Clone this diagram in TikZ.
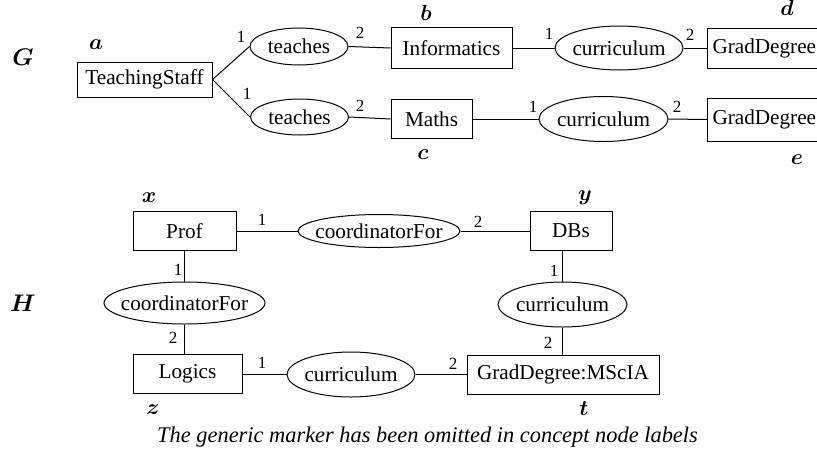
\documentclass[tikz,border=0pt]{standalone}
\usepackage{fontspec}
\setmainfont{Liberation Serif}
\usetikzlibrary{shapes.geometric}
\newcommand\nfont{\fontsize{10.6}{12}\selectfont}
\newcommand\lfont{\fontsize{8.5}{10}\selectfont}
\newcommand\vfont{\fontsize{10.5}{12}\selectfont\boldmath}
\newcommand\gfont{\fontsize{12}{14}\selectfont\boldmath}
\newcommand\capfont{\fontsize{11.2}{13}\selectfont\itshape}
\begin{document}
\begin{tikzpicture}[x=0.5pt,y=-0.5pt,
  cbox/.style={draw, rectangle, inner sep=0pt, font=\nfont, line width=0.5pt},
  gbox/.style={draw, rectangle, inner ysep=0pt, inner xsep=2.5pt, font=\nfont, line width=0.5pt, anchor=west, text width=70pt, align=left},
  rel/.style={draw, ellipse, inner sep=0pt, font=\nfont, line width=0.5pt},
  lab/.style={inner sep=0pt, font=\lfont},
  var/.style={inner sep=0pt, font=\vfont},
  gvar/.style={inner sep=0pt, font=\gfont},
  conn/.style={line width=0.5pt}]
\useasboundingbox (0,0) rectangle (817,455);
\clip (0,0) rectangle (817,455);

% graph G
\node[gvar] (G) at (23,57) {$G$};
\node[cbox, minimum width=67.5pt, minimum height=17.5pt] (ts) at (144.5,79.5) {TeachingStaff};
\node[rel, minimum width=49pt, minimum height=18.5pt] (t1) at (299,46.5) {\makebox[0pt]{teaches}};
\node[rel, minimum width=49pt, minimum height=18pt] (t2) at (299.5,117) {\makebox[0pt]{teaches}};
\node[cbox, minimum width=60.5pt, minimum height=20.5pt] (inf) at (451.5,48) {Informatics};
\node[cbox, minimum width=40.5pt, minimum height=19.5pt] (mat) at (431.5,119) {Maths};
\node[rel, minimum width=64pt, minimum height=22pt] (cu1) at (619,48) {\makebox[0pt]{curriculum}};
\node[rel, minimum width=64.5pt, minimum height=22.5pt] (cu2) at (603.5,119) {\makebox[0pt]{curriculum}};
\node[gbox, minimum height=20pt] (gd1) at (707,48) {GradDegree};
\node[gbox, minimum height=21.5pt] (gd2) at (707,119.5) {GradDegree};

\node[var] (va) at (96,45) {$a$};
\node[var] (vb) at (426,13) {$b$};
\node[var] (vc) at (423,155) {$c$};
\node[var] (vd) at (787,8) {$d$};
\node[var] (ve) at (797,160) {$e$};

\draw[conn] (ts.east) -- (t1.west);
\draw[conn] (ts.east) -- (t2.west);
\draw[conn] (t1.east) -- (inf.west);
\draw[conn] (t2.east) -- (mat.west);
\draw[conn] (inf.east) -- (cu1.west);
\draw[conn] (mat.east) -- (cu2.west);
\draw[conn] (cu1.east) -- (gd1.west);
\draw[conn] (cu2.east) -- (gd2.west);

\node[lab] (l1) at (241,37) {1};
\node[lab] (l2) at (360,33) {2};
\node[lab] (l3) at (247,94) {1};
\node[lab] (l4) at (360,106) {2};
\node[lab] (l5) at (549,34) {1};
\node[lab] (l6) at (690,35) {2};
\node[lab] (l7) at (533,107) {1};
\node[lab] (l8) at (677,107) {2};

% graph H
\node[gvar] (H) at (23,303) {$H$};
\node[cbox, minimum width=51.5pt, minimum height=19.5pt] (prof) at (184.5,231) {Prof};
\node[rel, minimum width=81pt, minimum height=16.5pt] (cf1) at (379,231) {\makebox[0pt]{coordinatorFor}};
\node[cbox, minimum width=41pt, minimum height=19.5pt] (dbs) at (571,231) {DBs};
\node[rel, minimum width=80.5pt, minimum height=21pt] (cf2) at (184.5,303) {\makebox[0pt]{coordinatorFor}};
\node[rel, minimum width=64.5pt, minimum height=22.5pt] (cu3) at (562.5,304.5) {\makebox[0pt]{curriculum}};
\node[cbox, minimum width=54.5pt, minimum height=19.5pt] (log) at (187.5,374) {Logics};
\node[rel, minimum width=64pt, minimum height=22.5pt] (cu4) at (351,374.5) {\makebox[0pt]{curriculum}};
\node[cbox, minimum width=96pt, minimum height=19.5pt] (msc) at (563,374.5) {GradDegree:MScIA};

\node[var] (vx) at (149,198) {$x$};
\node[var] (vy) at (585,198) {$y$};
\node[var] (vz) at (153,410) {$z$};
\node[var] (vt) at (584,409) {$t$};

\draw[conn] (prof.east) -- (cf1.west);
\draw[conn] (cf1.east) -- (dbs.west);
\draw[conn] (prof.south) -- (cf2.north);
\draw[conn] (cf2.south) -- (cf2.south |- log.north);
\draw[conn] (dbs.south -| cu3.north) -- (cu3.north);
\draw[conn] (cu3.south) -- (cu3.south |- msc.north);
\draw[conn] (log.east |- cu4.west) -- (cu4.west);
\draw[conn] (cu4.east) -- (msc.west);

\node[lab] (m1) at (262,220) {1};
\node[lab] (m2) at (478,222) {2};
\node[lab] (m3) at (178,270) {1};
\node[lab] (m4) at (173,338) {2};
\node[lab] (m5) at (554,271) {1};
\node[lab] (m6) at (548,343) {2};
\node[lab] (m7) at (262,363) {1};
\node[lab] (m8) at (453,364) {2};

\node[inner sep=0pt, font=\capfont] (cap) at (427.5,437) {The generic marker has been omitted in concept node labels};
\end{tikzpicture}
\end{document}
